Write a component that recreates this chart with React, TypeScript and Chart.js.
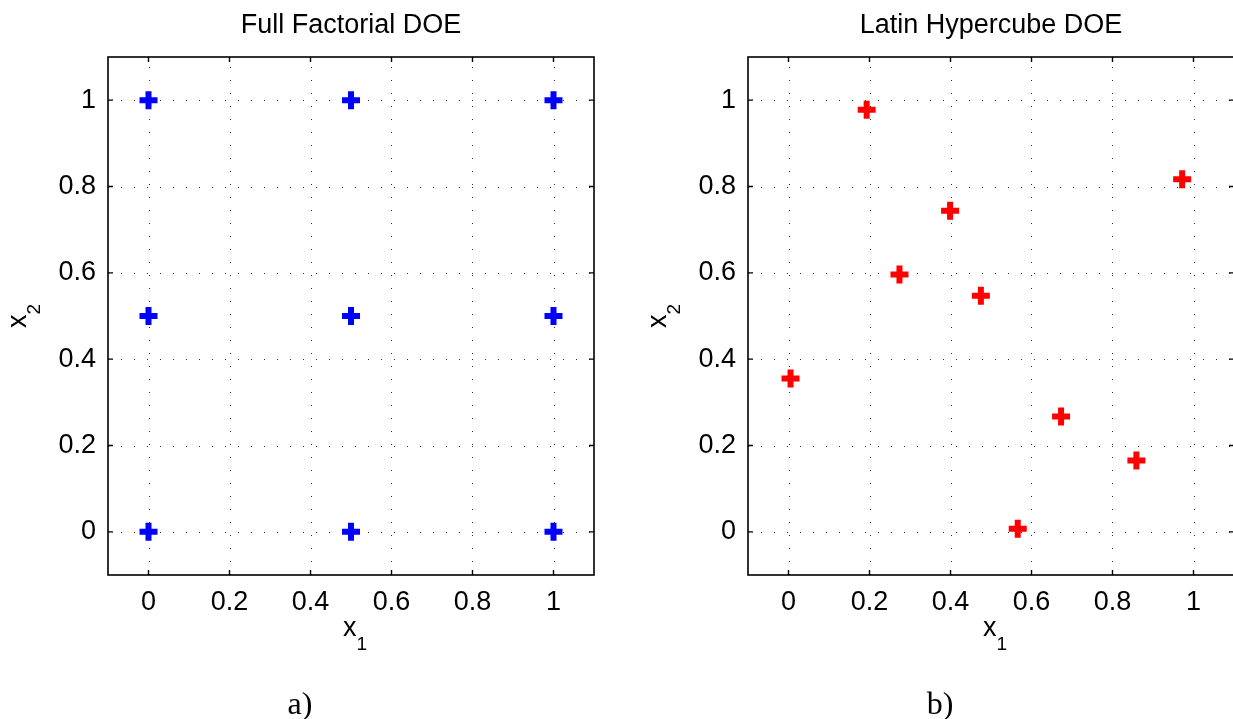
import React, { useEffect, useRef } from "react";
import { Chart, registerables } from "chart.js";

Chart.register(...registerables);

// ---------- data ----------
const TICK_VALUES = [0, 0.2, 0.4, 0.6, 0.8, 1];
const AXIS_MIN = -0.1;
const AXIS_MAX = 1.1;

const FF_X = [0, 0.5, 1, 0, 0.5, 1, 0, 0.5, 1];
const FF_Y = [0, 0, 0, 0.5, 0.5, 0.5, 1, 1, 1];

const LHS_X = [0.005, 0.193, 0.274, 0.399, 0.475, 0.566, 0.673, 0.859, 0.972];
const LHS_Y = [0.355, 0.978, 0.596, 0.744, 0.547, 0.007, 0.267, 0.165, 0.817];

const TITLES = ["Full Factorial DOE", "Latin Hypercube DOE"];
const CAPTIONS = ["a)", "b)"];
const X_LABEL = ["x", "1"];
const Y_LABEL = ["x", "2"];

// ---------- layout / style ----------
const CW = 620;
const CH = 719;
const AREA = { left: 108, top: 57, right: 594, bottom: 575 };
const SANS = '"Liberation Sans", Arial, Helvetica, sans-serif';
const SERIF = '"Liberation Serif", "Times New Roman", serif';
const FONT_SIZE = 27;
const SUB_SIZE = 19;

function makePlugin(title: string, caption: string) {
  return {
    id: "matlabAxes",
    beforeDatasetsDraw(chart: any) {
      const { ctx, chartArea: a, scales } = chart;
      const xs = scales.x;
      const ys = scales.y;
      ctx.save();
      ctx.strokeStyle = "#2a2a2a";
      ctx.lineWidth = 1;
      ctx.setLineDash([1, 12]);
      for (const v of TICK_VALUES) {
        const px = Math.round(xs.getPixelForValue(v)) + 0.5;
        ctx.beginPath();
        ctx.moveTo(px, a.bottom);
        ctx.lineTo(px, a.top);
        ctx.stroke();
        const py = Math.round(ys.getPixelForValue(v)) + 0.5;
        ctx.beginPath();
        ctx.moveTo(a.left, py);
        ctx.lineTo(a.right, py);
        ctx.stroke();
      }
      ctx.restore();
    },
    afterDatasetsDraw(chart: any) {
      const { ctx, chartArea: a, scales } = chart;
      const xs = scales.x;
      const ys = scales.y;
      ctx.save();
      ctx.strokeStyle = "#000";
      ctx.lineWidth = 1.6;
      ctx.setLineDash([]);
      ctx.strokeRect(a.left, a.top, a.right - a.left, a.bottom - a.top);
      const tl = 5;
      ctx.lineWidth = 1.4;
      for (const v of TICK_VALUES) {
        const px = xs.getPixelForValue(v);
        ctx.beginPath();
        ctx.moveTo(px, a.bottom);
        ctx.lineTo(px, a.bottom - tl);
        ctx.moveTo(px, a.top);
        ctx.lineTo(px, a.top + tl);
        ctx.stroke();
        const py = ys.getPixelForValue(v);
        ctx.beginPath();
        ctx.moveTo(a.left, py);
        ctx.lineTo(a.left + tl, py);
        ctx.moveTo(a.right, py);
        ctx.lineTo(a.right - tl, py);
        ctx.stroke();
      }
      ctx.restore();
    },
    afterDraw(chart: any) {
      const { ctx, chartArea: a } = chart;
      const cx = (a.left + a.right) / 2;
      const cy = (a.top + a.bottom) / 2;
      ctx.save();
      ctx.fillStyle = "#000";
      ctx.textBaseline = "alphabetic";
      // title
      ctx.font = `${FONT_SIZE}px ${SANS}`;
      ctx.textAlign = "center";
      ctx.fillText(title, cx, 33);
      // x label with subscript
      ctx.textAlign = "left";
      ctx.font = `${FONT_SIZE}px ${SANS}`;
      const wx = ctx.measureText(X_LABEL[0]).width;
      ctx.font = `${SUB_SIZE}px ${SANS}`;
      const ws = ctx.measureText(X_LABEL[1]).width;
      const x0 = cx + 4 - (wx + ws) / 2;
      ctx.font = `${FONT_SIZE}px ${SANS}`;
      ctx.fillText(X_LABEL[0], x0, 636);
      ctx.font = `${SUB_SIZE}px ${SANS}`;
      ctx.fillText(X_LABEL[1], x0 + wx, 650);
      // y label rotated
      ctx.save();
      ctx.translate(26, cy);
      ctx.rotate(-Math.PI / 2);
      ctx.font = `${FONT_SIZE}px ${SANS}`;
      const wy = ctx.measureText(Y_LABEL[0]).width;
      ctx.font = `${SUB_SIZE}px ${SANS}`;
      const wys = ctx.measureText(Y_LABEL[1]).width;
      const y0 = -(wy + wys) / 2;
      ctx.font = `${FONT_SIZE}px ${SANS}`;
      ctx.fillText(Y_LABEL[0], y0, 0);
      ctx.font = `${SUB_SIZE}px ${SANS}`;
      ctx.fillText(Y_LABEL[1], y0 + wy, 14);
      ctx.restore();
      // caption
      ctx.font = `${32}px ${SERIF}`;
      ctx.textAlign = "center";
      ctx.fillText(caption, cx - 51, 714);
      ctx.restore();
    },
  };
}

function Panel(props: {
  left: number;
  title: string;
  caption: string;
  xs: number[];
  ys: number[];
  color: string;
}) {
  const ref = useRef<HTMLCanvasElement | null>(null);
  useEffect(() => {
    if (!ref.current) return;
    const points = props.xs.map((x, i) => ({ x, y: props.ys[i] }));
    const tickFont = { family: SANS, size: FONT_SIZE };
    const chart = new Chart(ref.current, {
      type: "scatter",
      data: {
        datasets: [
          {
            data: points,
            pointStyle: "cross",
            pointRadius: 9,
            pointHoverRadius: 9,
            pointBorderWidth: 6,
            borderWidth: 6,
            borderColor: props.color,
            backgroundColor: props.color,
            clip: false,
          } as any,
        ],
      },
      options: {
        responsive: false,
        animation: false,
        events: [],
        layout: {
          padding: {
            left: 0,
            top: AREA.top,
            right: CW - AREA.right,
            bottom: 0,
          },
        },
        plugins: {
          legend: { display: false },
          tooltip: { enabled: false },
          title: { display: false },
        },
        scales: {
          x: {
            type: "linear",
            min: AXIS_MIN,
            max: AXIS_MAX,
            afterBuildTicks: (s: any) => {
              s.ticks = TICK_VALUES.map((v) => ({ value: v }));
            },
            afterFit: (s: any) => {
              s.height = CH - AREA.bottom;
            },
            grid: { display: false, drawTicks: false },
            border: { display: false },
            ticks: {
              padding: 11,
              color: "#000",
              font: tickFont,
              maxRotation: 0,
              autoSkip: false,
              callback: (v: any) => String(v),
            },
          },
          y: {
            type: "linear",
            min: AXIS_MIN,
            max: AXIS_MAX,
            afterBuildTicks: (s: any) => {
              s.ticks = TICK_VALUES.map((v) => ({ value: v }));
            },
            afterFit: (s: any) => {
              s.width = AREA.left;
            },
            grid: { display: false, drawTicks: false },
            border: { display: false },
            ticks: {
              padding: 12,
              color: "#000",
              font: tickFont,
              autoSkip: false,
              callback: (v: any) => String(v),
            },
          },
        },
      } as any,
      plugins: [makePlugin(props.title, props.caption)],
    });
    return () => chart.destroy();
  }, []);
  return (
    <canvas
      ref={ref}
      width={CW}
      height={CH}
      style={{ position: "absolute", left: props.left, top: 0, width: CW, height: CH }}
    />
  );
}

export default function App() {
  return (
    <div
      style={{
        position: "fixed",
        left: 0,
        top: 0,
        width: 1233,
        height: 719,
        overflow: "hidden",
        background: "#fff",
      }}
    >
      <Panel left={0} title={TITLES[0]} caption={CAPTIONS[0]} xs={FF_X} ys={FF_Y} color="#0000ff" />
      <Panel left={640} title={TITLES[1]} caption={CAPTIONS[1]} xs={LHS_X} ys={LHS_Y} color="#ff0000" />
    </div>
  );
}
